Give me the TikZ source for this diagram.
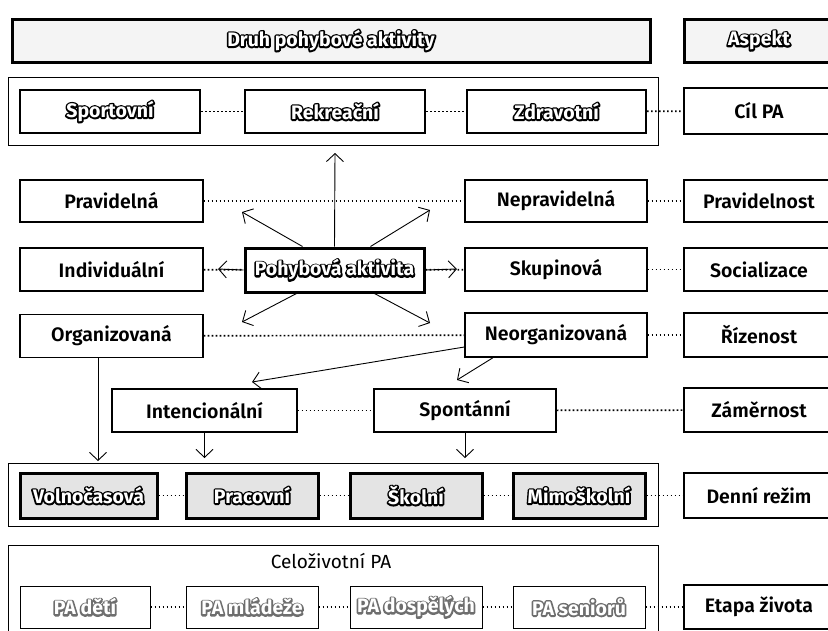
\documentclass[tikz,border=0pt]{standalone}
\usepackage{fontspec}
\setmainfont{Fira Sans}
\newfontfamily\lblfont{Fira Sans SemiBold}
\newfontfamily\obrysfont{Fira Sans Bold}
\usepackage{xcolor}
\usetikzlibrary{arrows.meta,calc}
\definecolor{stipple}{RGB}{228,228,228}
\definecolor{lightline}{RGB}{110,110,110}

% outlined label: stroked copy underneath, white fill on top
\newcommand{\obrysbarva}[2]{{\obrysfont\rlap{\special{pdf:literal direct 1 Tr 3.4 w 1 j}\textcolor{#1}{#2}\special{pdf:literal direct 0 Tr}}\textcolor{white}{#2}}}
\newcommand{\obrys}[1]{\obrysbarva{black}{#1}}
\newcommand{\obryssedy}[1]{\obrysbarva{lightline}{#1}}

\tikzset{
  box/.style={draw, line width=1.4pt, fill=white, inner sep=0pt,
    font=\lblfont\fontsize{19.5}{22}\selectfont},
  tlusty/.style={box, line width=3pt},
  stredni/.style={box, line width=2pt},
  ramec/.style={draw, line width=1pt, inner sep=0pt},
  tecky/.style={line width=1.7pt, dash pattern=on 1.7pt off 2.3pt},
  sipka/.style={-{Straight Barb[length=8pt,width=17pt]}, line width=0.9pt},
}

\begin{document}
\begin{tikzpicture}[x=1pt,y=-1pt]
			\useasboundingbox (0,0) rectangle (828,630);

			% header
			\node[tlusty, fill=stipple!40, minimum width=638, minimum height=43] (druh) at (331,40.5) {\obrys{Druh pohybové aktivity}};
			\node[tlusty, fill=stipple!40, minimum width=150, minimum height=43] (aspekt) at (759,40.5) {\obrys{Aspekt}};

			% cil PA
			\node[ramec, minimum width=650, minimum height=68] (g1) at (333,111) {};
			\node[stredni, minimum width=180, minimum height=43] (sport) at (110,111.5) {\obrys{Sportovní}};
			\node[stredni, minimum width=180, minimum height=43] (rekr) at (335,111.5) {\obrys{Rekreační}};
			\node[stredni, minimum width=179, minimum height=43] (zdrav) at (556.5,111.5) {\obrys{Zdravotní}};
			\node[box, minimum width=150, minimum height=46] (cil) at (759,111) {Cíl PA};
			\draw[tecky] (sport) -- (rekr);
			\draw[tecky] (rekr) -- (zdrav);
			\draw[tecky] (zdrav) -- (cil);

			% pravidelnost
			\node[box, minimum width=183, minimum height=42] (prav) at (111.5,201) {Pravidelná};
			\node[box, minimum width=182, minimum height=42] (neprav) at (556,201) {Nepravidelná};
			\node[box, minimum width=150, minimum height=42] (pravid) at (759,201) {Pravidelnost};
			\draw[tecky] (prav) -- (neprav);
			\draw[tecky] (neprav) -- (pravid);

			% socializace
			\node[box, minimum width=183, minimum height=43] (indiv) at (111.5,269.5) {Individuální};
			\node[tlusty, minimum width=179, minimum height=44] (pa) at (334.5,270) {\obrys{Pohybová aktivita}};
			\node[box, minimum width=182, minimum height=43] (skup) at (556,269.5) {Skupinová};
			\node[box, minimum width=150, minimum height=43] (social) at (759,269.5) {Socializace};
			\draw[tecky] (indiv) -- (pa);
			\draw[tecky] (pa) -- (skup);
			\draw[tecky] (skup) -- (social);

			% rizenost
			\node[box, minimum width=183, minimum height=43] (org) at (111.5,336) {Organizovaná};
			\node[box, minimum width=182, minimum height=44] (neorg) at (556,335) {Neorganizovaná};
			\node[box, minimum width=150, minimum height=44] (rizen) at (759,335) {Řízenost};
			\draw[tecky] (org) -- (neorg);
			\draw[tecky] (neorg) -- (rizen);

			% zamernost
			\node[box, minimum width=185, minimum height=43] (inten) at (204.5,410.5) {Intencionální};
			\node[box, minimum width=182, minimum height=43] (spont) at (465,410.5) {Spontánní};
			\node[box, minimum width=150, minimum height=44] (zamer) at (759,410) {Záměrnost};
			\draw[tecky] (inten) -- (spont);
			\draw[tecky] (spont) -- (zamer);

			% denni rezim
			\node[ramec, minimum width=650, minimum height=63] (g2) at (333,494.5) {};
			\node[tlusty, fill=stipple, minimum width=137, minimum height=45] (volno) at (88.5,495.5) {\obrys{Volnočasová}};
			\node[tlusty, fill=stipple, minimum width=132, minimum height=45] (prac) at (252,495.5) {\obrys{Pracovní}};
			\node[tlusty, fill=stipple, minimum width=132, minimum height=45] (skol) at (416,495.5) {\obrys{Školní}};
			\node[tlusty, fill=stipple, minimum width=132, minimum height=45] (mimo) at (579,495.5) {\obrys{Mimoškolní}};
			\node[box, minimum width=150, minimum height=45] (denni) at (759,495.5) {Denní režim};
			\draw[tecky] (volno) -- (prac);
			\draw[tecky] (prac) -- (skol);
			\draw[tecky] (skol) -- (mimo);
			\draw[tecky] (mimo) -- (denni);

			% etapa zivota
			\node[ramec, minimum width=650, minimum height=100, anchor=north] (g3) at (333,545) {};
			\node[font=\fontsize{19}{22}\selectfont, inner sep=0pt] (celo) at (331,561) {Celoživotní PA};
			\node[box, line width=1pt, minimum width=130, minimum height=42] (deti) at (85,607) {\obryssedy{PA dětí}};
			\node[box, line width=1pt, minimum width=132, minimum height=42] (mladez) at (252,607) {\obryssedy{PA mládeže}};
			\node[box, line width=1pt, minimum width=132, minimum height=42] (dosp) at (416,607) {\obryssedy{PA dospělých}};
			\node[box, line width=1pt, minimum width=132, minimum height=42] (senior) at (579,607) {\obryssedy{PA seniorů}};
			\node[box, minimum width=150, minimum height=44] (etapa) at (759,607) {Etapa života};
			\draw[tecky] (deti) -- (mladez);
			\draw[tecky] (mladez) -- (dosp);
			\draw[tecky] (dosp) -- (senior);
			\draw[tecky] (senior) -- (etapa);

			% sipky z pohybove aktivity
			\coordinate (nahoru) at (335,153);
			\coordinate (levhore) at (242,212);
			\coordinate (pravhore) at (430,210);
			\coordinate (levdole) at (242,322);
			\coordinate (pravdole) at (430,323);
			\coordinate (vlevo) at (218,269);
			\coordinate (vpravo) at (457,269);
			\draw[sipka] (pa.north) -- (nahoru);
			\draw[sipka] ([xshift=-32pt]pa.north) -- (levhore);
			\draw[sipka] ([xshift=36pt]pa.north) -- (pravhore);
			\draw[sipka] ([xshift=-38pt]pa.south) -- (levdole);
			\draw[sipka] ([xshift=40pt]pa.south) -- (pravdole);
			\draw[sipka] (pa.west) -- (vlevo);
			\draw[sipka] (pa.east) -- (vpravo);

			% sipky dolu
			\coordinate (intenhore) at (252,382);
			\coordinate (sponthore) at (457,380);
			\coordinate (orgdol) at (98,461);
			\coordinate (intendol) at (204.5,458);
			\coordinate (spontdol) at (465,458);
			\draw[sipka] ([yshift=-12pt]neorg.west) -- (intenhore);
			\draw[sipka] ([xshift=-63pt]neorg.south) -- (sponthore);
			\draw[sipka] (org.south -| orgdol) -- (orgdol);
			\draw[sipka] (inten.south) -- (intendol);
			\draw[sipka] (spont.south) -- (spontdol);
\end{tikzpicture}
\end{document}
